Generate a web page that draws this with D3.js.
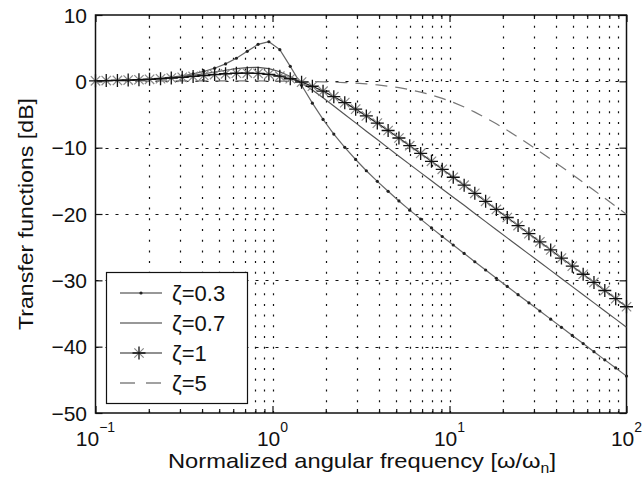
<!DOCTYPE html>
<html>
<head>
<meta charset="utf-8">
<script src="https://cdn.jsdelivr.net/npm/d3@7"></script>
<style>
  body { margin: 0; background: #fff; }
  text { font-family: "Liberation Sans", Arial, sans-serif; fill: #111; }
</style>
</head>
<body>
<svg id="chart"></svg>
<script>
// normalized frequency points (50 per 3 decades)
const freq = [0.1, 0.115, 0.133, 0.153, 0.176, 0.202, 0.233, 0.268, 0.309, 0.356,
  0.409, 0.471, 0.543, 0.625, 0.720, 0.829, 0.954, 1.10, 1.26, 1.46,
  1.68, 1.93, 2.22, 2.56, 2.95, 3.39, 3.91, 4.50, 5.18, 5.96,
  6.87, 7.91, 9.10, 10.5, 12.1, 13.9, 16.0, 18.4, 21.2, 24.4,
  28.1, 32.4, 37.3, 42.9, 49.4, 56.9, 65.5, 75.4, 86.9, 100];

// transfer function magnitudes in dB
const zeta03 = [0.09, 0.12, 0.15, 0.20, 0.27, 0.36, 0.48, 0.63, 0.84, 1.12,
  1.49, 1.98, 2.63, 3.48, 4.52, 5.58, 5.97, 4.78, 2.26, -0.59,
  -3.29, -5.74, -7.95, -9.95, -11.78, -13.48, -15.08, -16.58, -18.03, -19.42,
  -20.77, -22.09, -23.39, -24.67, -25.94, -27.20, -28.44, -29.69, -30.92, -32.16,
  -33.39, -34.62, -35.85, -37.08, -38.31, -39.53, -40.76, -41.99, -43.21, -44.44];
const zeta07 = [0.09, 0.11, 0.15, 0.20, 0.26, 0.34, 0.44, 0.56, 0.72, 0.91,
  1.14, 1.40, 1.67, 1.91, 2.08, 2.11, 1.91, 1.45, 0.73, -0.21,
  -1.31, -2.49, -3.73, -4.99, -6.26, -7.52, -8.78, -10.03, -11.28, -12.52,
  -13.76, -15.00, -16.23, -17.47, -18.69, -19.92, -21.15, -22.38, -23.60, -24.83,
  -26.05, -27.28, -28.50, -29.73, -30.95, -32.18, -33.40, -34.63, -35.85, -37.08];
const zeta1 = [0.08, 0.11, 0.14, 0.19, 0.24, 0.31, 0.39, 0.50, 0.61, 0.74,
  0.88, 1.02, 1.14, 1.22, 1.25, 1.20, 1.05, 0.78, 0.39, -0.12,
  -0.74, -1.48, -2.31, -3.21, -4.19, -5.22, -6.30, -7.41, -8.54, -9.70,
  -10.87, -12.06, -13.26, -14.46, -15.66, -16.88, -18.09, -19.31, -20.53, -21.75,
  -22.97, -24.19, -25.41, -26.64, -27.86, -29.08, -30.31, -31.53, -32.76, -33.98];
const zeta5 = [0.04, 0.05, 0.06, 0.06, 0.07, 0.07, 0.07, 0.07, 0.08, 0.08,
  0.08, 0.07, 0.07, 0.07, 0.06, 0.06, 0.05, 0.03, 0.02, -0.01,
  -0.04, -0.07, -0.13, -0.19, -0.28, -0.39, -0.54, -0.73, -0.96, -1.26,
  -1.62, -2.06, -2.57, -3.18, -3.87, -4.64, -5.49, -6.41, -7.39, -8.42,
  -9.49, -10.59, -11.73, -12.88, -14.05, -15.23, -16.43, -17.63, -18.83, -20.04];

const legendLabels = ["ζ=0.3", "ζ=0.7", "ζ=1", "ζ=5"];
const yTicks = [10, 0, -10, -20, -30, -40, -50];
const xDecades = [-1, 0, 1, 2];

const width = 644;
const height = 483;
const pLeft = 95.5, pRight = 626.5, pTop = 15, pBottom = 413;

const svg = d3.select("#chart").attr("width", width).attr("height", height);

const xScale = d3.scaleLog().domain([0.1, 100]).range([pLeft, pRight]);
const yScale = d3.scaleLinear().domain([-50, 10]).range([pBottom, pTop]);

// minor positions 2..9 in each decade plus the decades themselves
const minorTicks = [];
[0.1, 1, 10].forEach((d) => {
  for (let m = 2; m <= 9; m++) minorTicks.push(d * m);
});
const gridX = minorTicks.concat([1, 10]);

const grid = svg.append("g").attr("class", "grid");
grid
  .selectAll("line.vx")
  .data(gridX)
  .enter()
  .append("line")
  .attr("x1", (d) => Math.round(xScale(d)) + 0.5)
  .attr("x2", (d) => Math.round(xScale(d)) + 0.5)
  .attr("y1", pTop)
  .attr("y2", pBottom)
  .attr("stroke", "#111")
  .attr("stroke-width", 1.2)
  .attr("stroke-dasharray", "2,8.7");

grid
  .selectAll("line.hy")
  .data([0, -10, -20, -30, -40])
  .enter()
  .append("line")
  .attr("x1", pLeft)
  .attr("x2", pRight)
  .attr("y1", (d) => Math.round(yScale(d)) + 0.5)
  .attr("y2", (d) => Math.round(yScale(d)) + 0.5)
  .attr("stroke", "#111")
  .attr("stroke-width", 1.2)
  .attr("stroke-dasharray", "3,7");

// axes: ticks inside the box, on all four sides
const decadeVals = xDecades.map((e) => Math.pow(10, e));
const xAxisBottom = d3.axisBottom(xScale).tickValues(decadeVals).tickSize(-7).tickFormat("");
const xMinorBottom = d3.axisBottom(xScale).tickValues(minorTicks).tickSize(-4).tickFormat("");
const xAxisTop = d3.axisTop(xScale).tickValues(decadeVals).tickSize(-7).tickFormat("");
const xMinorTop = d3.axisTop(xScale).tickValues(minorTicks).tickSize(-4).tickFormat("");
const yAxisLeft = d3.axisLeft(yScale).tickValues(yTicks).tickSize(-7).tickFormat("");
const yAxisRight = d3.axisRight(yScale).tickValues(yTicks).tickSize(-7).tickFormat("");

[
  [xAxisBottom, `translate(0,${pBottom})`],
  [xMinorBottom, `translate(0,${pBottom})`],
  [xAxisTop, `translate(0,${pTop})`],
  [xMinorTop, `translate(0,${pTop})`],
  [yAxisLeft, `translate(${pLeft},0)`],
  [yAxisRight, `translate(${pRight},0)`],
].forEach(([ax, tr]) => {
  const g = svg.append("g").attr("transform", tr).call(ax);
  g.select(".domain").remove();
  g.selectAll("line").attr("stroke", "#111").attr("stroke-width", 1.2);
});

svg
  .append("rect")
  .attr("x", pLeft)
  .attr("y", pTop)
  .attr("width", pRight - pLeft)
  .attr("height", pBottom - pTop)
  .attr("fill", "none")
  .attr("stroke", "#111")
  .attr("stroke-width", 1.5);

// tick labels
svg
  .selectAll("text.ylab")
  .data(yTicks)
  .enter()
  .append("text")
  .attr("x", 87)
  .attr("y", (d) => yScale(d))
  .attr("dy", "0.36em")
  .attr("text-anchor", "end")
  .attr("font-size", 21)
  .text((d) => (d < 0 ? "\u2212" + Math.abs(d) : d));

const xl = svg
  .selectAll("text.xlab")
  .data(xDecades)
  .enter()
  .append("text")
  .attr("x", (d) => xScale(Math.pow(10, d)))
  .attr("y", 446)
  .attr("text-anchor", "middle")
  .attr("font-size", 21);
xl.append("tspan").text("10");
xl.append("tspan")
  .attr("dy", -14)
  .attr("font-size", 14)
  .text((d) => (d < 0 ? "\u2212" + Math.abs(d) : d));

// axis titles
const xTitle = svg
  .append("text")
  .attr("x", 362)
  .attr("y", 468)
  .attr("text-anchor", "middle")
  .attr("font-size", 21)
  .attr("textLength", 388)
  .attr("lengthAdjust", "spacingAndGlyphs")
  .text("Normalized angular frequency [ω/ω");
xTitle.append("tspan").attr("dy", 5).attr("font-size", 14).text("n");
xTitle.append("tspan").attr("dy", -5).text("]");

svg
  .append("text")
  .attr("transform", `translate(33,${(pTop + pBottom) / 2}) rotate(-90)`)
  .attr("text-anchor", "middle")
  .attr("font-size", 21)
  .attr("textLength", 232)
  .attr("lengthAdjust", "spacingAndGlyphs")
  .text("Transfer functions [dB]");

// curves
const line = (vals) =>
  d3
    .line()
    .x((d, i) => xScale(freq[i]))
    .y((d) => yScale(d))(vals);

const plot = svg.append("g");

plot.append("path").attr("d", line(zeta5)).attr("fill", "none")
  .attr("stroke", "#777").attr("stroke-width", 1.2).attr("stroke-dasharray", "12,8");
plot.append("path").attr("d", line(zeta07)).attr("fill", "none")
  .attr("stroke", "#555").attr("stroke-width", 1.2);
plot.append("path").attr("d", line(zeta03)).attr("fill", "none")
  .attr("stroke", "#666").attr("stroke-width", 1.2);
plot.append("path").attr("d", line(zeta1)).attr("fill", "none")
  .attr("stroke", "#222").attr("stroke-width", 1.2);

// dot markers for zeta=0.3
plot
  .selectAll("circle.dot")
  .data(zeta03)
  .enter()
  .append("circle")
  .attr("cx", (d, i) => xScale(freq[i]))
  .attr("cy", (d) => yScale(d))
  .attr("r", 1.6)
  .attr("fill", "#222");

// star markers for zeta=1
const star = (g, cx, cy, s) => {
  const k = s * 0.72;
  g.append("path")
    .attr("d", `M${cx - k},${cy - k}L${cx + k},${cy + k}M${cx - k},${cy + k}L${cx + k},${cy - k}`)
    .attr("stroke", "#888").attr("stroke-width", 1.2);
  g.append("path")
    .attr("d", `M${cx - s},${cy}L${cx + s},${cy}M${cx},${cy - s}L${cx},${cy + s}`)
    .attr("stroke", "#111").attr("stroke-width", 1.3);
};
zeta1.forEach((d, i) => star(plot, xScale(freq[i]), yScale(d), 6.5));

// legend
const lg = svg.append("g");
lg.append("rect")
  .attr("x", 106.5).attr("y", 272.5).attr("width", 141).attr("height", 131)
  .attr("fill", "#fff").attr("stroke", "#111").attr("stroke-width", 1.2);

const rowY = (i) => 293 + i * 30;
const sx1 = 120, sx2 = 162;
lg.append("line").attr("x1", sx1).attr("x2", sx2).attr("y1", rowY(0)).attr("y2", rowY(0))
  .attr("stroke", "#333").attr("stroke-width", 1.2);
lg.append("circle").attr("cx", (sx1 + sx2) / 2).attr("cy", rowY(0)).attr("r", 1.6).attr("fill", "#222");
lg.append("line").attr("x1", sx1).attr("x2", sx2).attr("y1", rowY(1)).attr("y2", rowY(1))
  .attr("stroke", "#333").attr("stroke-width", 1.2);
lg.append("line").attr("x1", sx1).attr("x2", sx2).attr("y1", rowY(2)).attr("y2", rowY(2))
  .attr("stroke", "#222").attr("stroke-width", 1.2);
star(lg, 139, rowY(2), 6.5);
lg.append("line").attr("x1", sx1).attr("x2", sx2).attr("y1", rowY(3)).attr("y2", rowY(3))
  .attr("stroke", "#444").attr("stroke-width", 1.2).attr("stroke-dasharray", "15,11");

lg.selectAll("text")
  .data(legendLabels)
  .enter()
  .append("text")
  .attr("x", 172)
  .attr("y", (d, i) => rowY(i))
  .attr("dy", "0.36em")
  .attr("font-size", 22)
  .text((d) => d);
</script>
</body>
</html>
